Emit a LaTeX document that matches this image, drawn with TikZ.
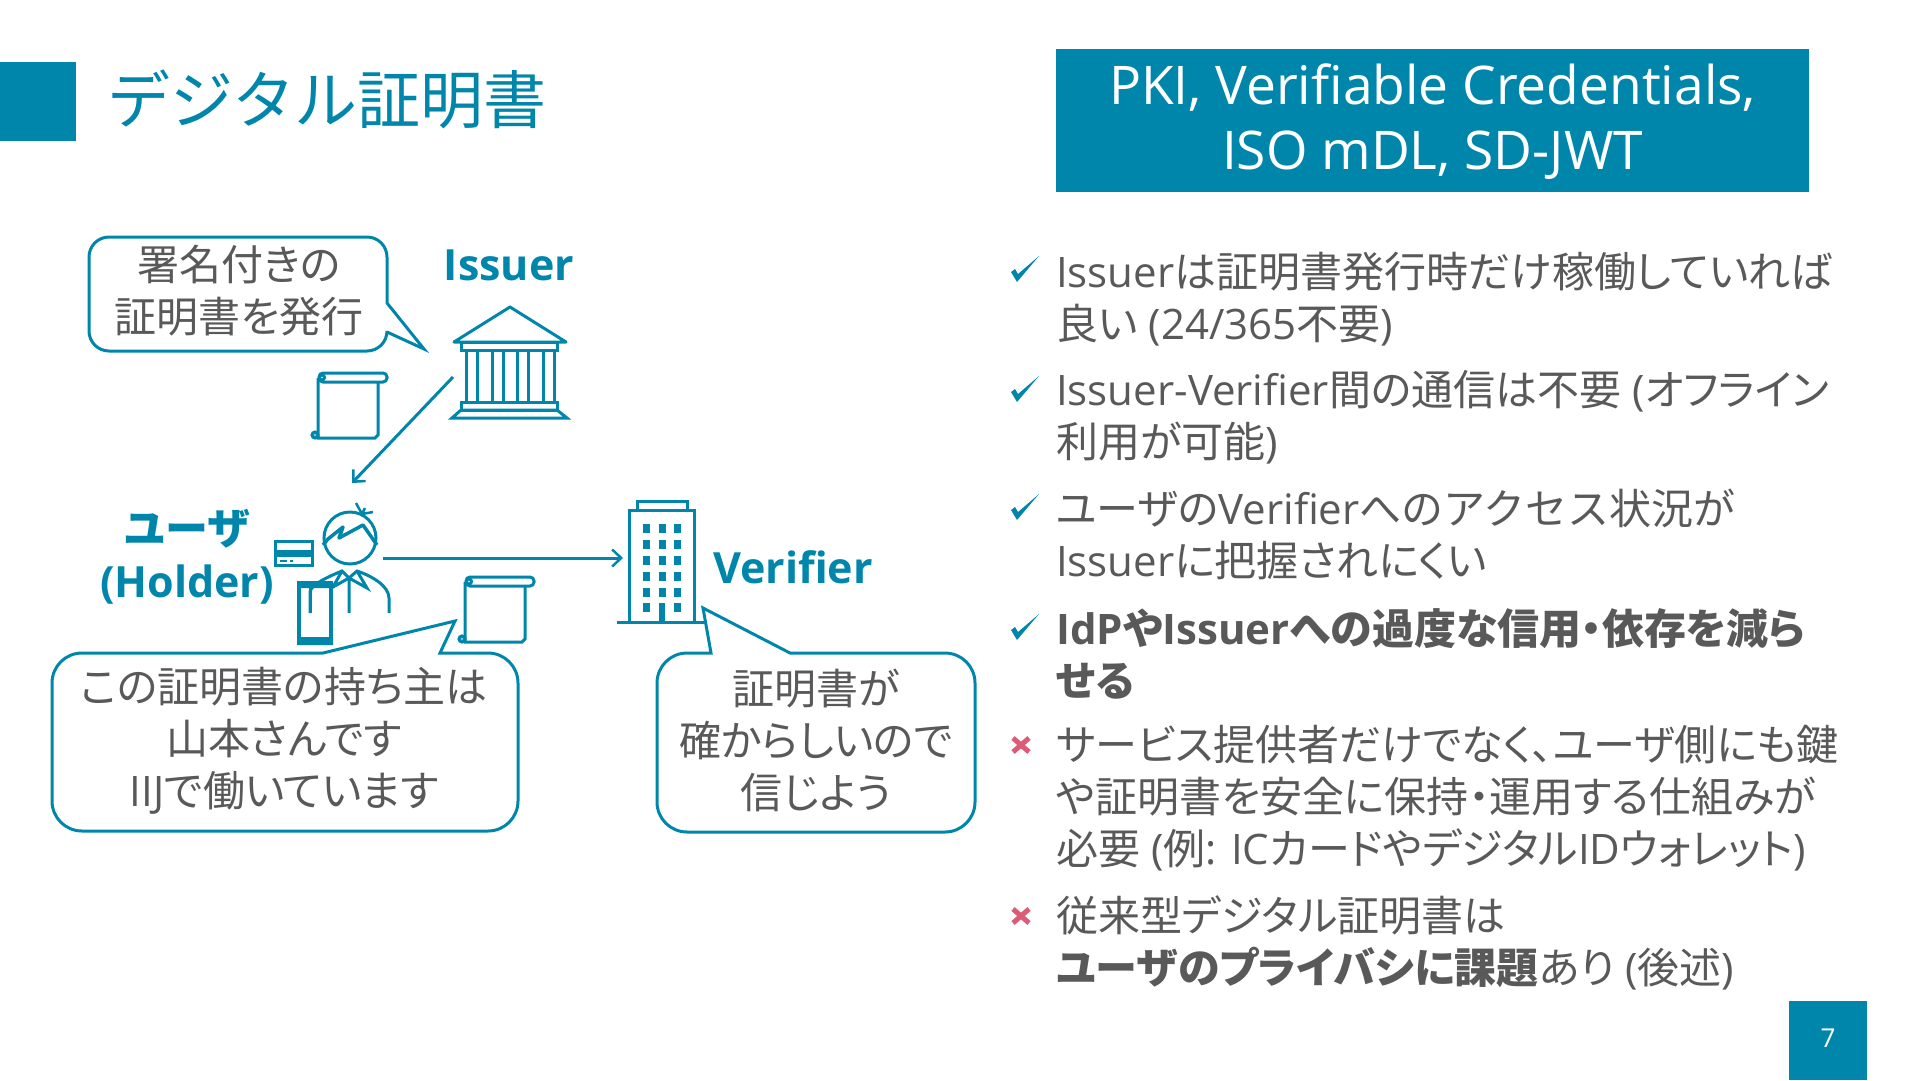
\documentclass[tikz,border=0pt]{standalone}
\usepackage{fontspec}
\setmainfont{Open Sans}
\newfontfamily\jafont[RawFeature=+palt]{Noto Sans CJK JP}
\newfontfamily\jawide{Noto Sans CJK JP}
\newcommand{\ja}[1]{{\jafont #1}}
\newcommand{\jw}[1]{{\jawide #1}}
\usetikzlibrary{arrows.meta}
\definecolor{iijteal}{RGB}{0,134,171}
\definecolor{bodygray}{RGB}{89,89,89}
\definecolor{crosspink}{RGB}{220,92,120}

\tikzset{
  scrollicon/.pic={
    \draw[icon] (0,5) -- (0,65) -- (57,65) -- (60,62) -- (60,9);
    \draw[icon, rounded corners=4pt] (1,0) rectangle (69,9);
    \draw[icon] (4,4.5) circle (2.5);
    \draw[icon, fill=iijteal!50] (-3,62) circle (3);
  },
  checkmark/.pic={
    \fill[iijteal] (-10,3) -- (-6,0) -- (-3,5) -- (18,-13) -- (-4,13) -- cycle;
  },
  crossmark/.pic={
    \draw[crosspink, line width=5pt] (-8,-7) -- (8,7) (8,-7) -- (-8,7);
  },
}

\begin{document}
\begin{tikzpicture}[
  x=1pt, y=-1pt,
  icon/.style={draw=iijteal, line width=3pt},
  balloon/.style={draw=iijteal, line width=3pt, fill=white},
  arr/.style={-{Straight Barb[length=9pt,width=17pt,line width=2.5pt]}, draw=iijteal, line width=3pt},
  bodytext/.style={font=\fontsize{42}{52}\selectfont, text=bodygray, inner sep=0pt, align=center},
  bullet/.style={bodytext, align=left, anchor=north west},
  actor/.style={font=\fontsize{43}{53}\selectfont\bfseries, text=iijteal, inner sep=0pt, align=center},
  banner/.style={text=white, inner sep=0pt, align=center},
]
\useasboundingbox (0,0) rectangle (1920,1080);

% title and banner
\fill[iijteal] (0,62) rectangle (76,141);
\node[font=\fontsize{63}{70}\selectfont\jawide, text=iijteal, anchor=west, inner sep=0pt] (title) at (107,99) {デジタル証明書};
\fill[iijteal] (1056,49) rectangle (1809,192);
\node[banner, font=\fontsize{53.3}{65}\selectfont] (head) at (1432.5,122) {PKI, Verifiable Credentials,\\ISO mDL, SD-JWT};
\fill[iijteal] (1789,1001) rectangle (1867,1080);
\node[banner, font=\fontsize{26}{30}\selectfont] (page) at (1828,1038) {7};

% issuer building
\draw[icon, line join=round] (510,307) -- (454,342) -- (566,342) -- cycle;
\draw[icon] (461,342) rectangle (557,350);
\foreach \c in {466,492,517,543}
  \draw[icon] (\c,350) -- (\c,402) (\c+11,350) -- (\c+11,402);
\draw[icon] (461,402) rectangle (557,410);
\draw[icon] (452,418) -- (461,410) -- (557,410) -- (567,418) -- cycle;
\pic at (318,373) {scrollicon};

% holder
\draw[icon] (350,538) circle (26);
\draw[icon, line width=3.5pt, line join=round] (323,545) -- (328,539) -- (343,527) -- (339,538) -- (363,525) -- (377,545);
\draw[icon, line width=2.5pt] (356,503) -- (362,514) (373,512) -- (362,514) (365,508) -- (362,514);
\draw[icon] (310,613) -- (310,592) .. controls (311,584) and (330,576) .. (342,571) -- (349,578) -- (357,571) .. controls (372,576) and (389,586) .. (389,598) -- (389,613);
\draw[icon] (349,578) -- (349,613) (342,571) -- (333,587) -- (349,578) (357,571) -- (367,588) -- (349,578);
\draw[icon] (275.5,541.5) rectangle (312.5,565.5);
\fill[iijteal] (275,550) rectangle (313,557);
\draw[iijteal, line width=2pt] (280,561) -- (287,561) (290,561) -- (293,561);
\draw[icon, line width=4pt] (299,583) rectangle (331,643);
\fill[iijteal] (297,581) rectangle (333,588) (297,637) rectangle (333,645);
\draw[icon] (310,588) -- (310,613);
\pic at (465,577) {scrollicon};

% verifier building
\draw[icon] (629,622) -- (629,510) -- (694,510) -- (694,622);
\draw[icon] (637,510) -- (637,501) -- (687,501) -- (687,510);
\draw[icon] (617,622) -- (705,622);
\foreach \c in {646,662,677}
  \foreach \r in {528,544,560,576,592}
    \fill[iijteal] (\c-3.5,\r-4.5) rectangle (\c+3.5,\r+4.5);
\foreach \c in {646,677}
  \fill[iijteal] (\c-3.5,607-4.5) rectangle (\c+3.5,607+4.5);
\fill[iijteal] (659,603) rectangle (665,622);

% connectors
\coordinate (issuerout) at (453,377);
\coordinate (holderin) at (352,483);
\coordinate (holderout) at (383,558);
\coordinate (verifierin) at (623,558);
\draw[arr] (issuerout) -- (holderin);
\draw[arr] (holderout) -- (verifierin);

% balloons
\draw[balloon, rounded corners=20pt] (200,237) -- (387,237) [sharp corners] -- (387,303) -- (424,349) -- (387,332) [rounded corners=20pt] -- (387,351) -- (89,351) -- (89,237) -- cycle;
\draw[balloon, rounded corners=30pt] (200,653) [sharp corners] -- (323,653) -- (455,621) -- (440,653) [rounded corners=30pt] -- (518,653) -- (518,831) -- (52,831) -- (52,653) -- cycle;
\draw[balloon, rounded corners=30pt] (800,653) -- (975,653) -- (975,832) -- (657,832) -- (657,653) [sharp corners] -- (711,653) -- (703,608) -- (790,653) -- cycle;
\node[bodytext] (issuersay) at (239,291) {\ja{署名付きの}\\\ja{証明書を発行}};
\node[bodytext] (holdersay) at (284,741) {\ja{この証明書の持ち主は}\\\ja{山本さんです}\\IIJ\ja{で働いています}};
\node[bodytext] (verifiersay) at (816,740) {\ja{証明書が}\\\ja{確からしいので}\\\ja{信じよう}};

% actors
\node[actor] (issuer) at (509,265) {Issuer};
\node[actor] (holder) at (187,557) {\ja{ユーザ}\\(Holder)};
\node[actor] (verifier) at (793,567) {Verifier};

% bullets
\node[bullet] (pro1) at (1056,252) {Issuer\ja{は証明書発行時だけ稼働していれば}\\\ja{良い} (24/365\ja{不要})};
\node[bullet] (pro2) at (1056,370) {Issuer-Verifier\ja{間の通信は不要} (\ja{オフライン}\\\ja{利用が可能})};
\node[bullet] (pro3) at (1056,489) {\ja{ユーザの}Verifier\jw{へのアクセス状況が}\\Issuer\ja{に把握されにくい}};
\node[bullet, font=\fontsize{42}{52}\selectfont\bfseries] (pro4) at (1056,608) {IdP\ja{や}Issuer\ja{への過度な信用・依存を減ら}\\\ja{せる}};
\node[bullet] (con1) at (1056,725) {\ja{サービス提供者だけでなく、ユーザ側にも鍵}\\\ja{や証明書を安全に保持・運用する仕組みが}\\\ja{必要} (\ja{例}: IC\ja{カードやデジタル}ID\ja{ウォレット})};
\node[bullet] (con2) at (1056,896) {\ja{従来型デジタル証明書は}\\\textbf{\ja{ユーザのプライバシに課題}}\ja{あり} (\ja{後述})};
\foreach \r in {269,389,507,627}
  \pic at (1021,\r) {checkmark};
\foreach \r in {745,916}
  \pic at (1021,\r) {crossmark};
\end{tikzpicture}
\end{document}
